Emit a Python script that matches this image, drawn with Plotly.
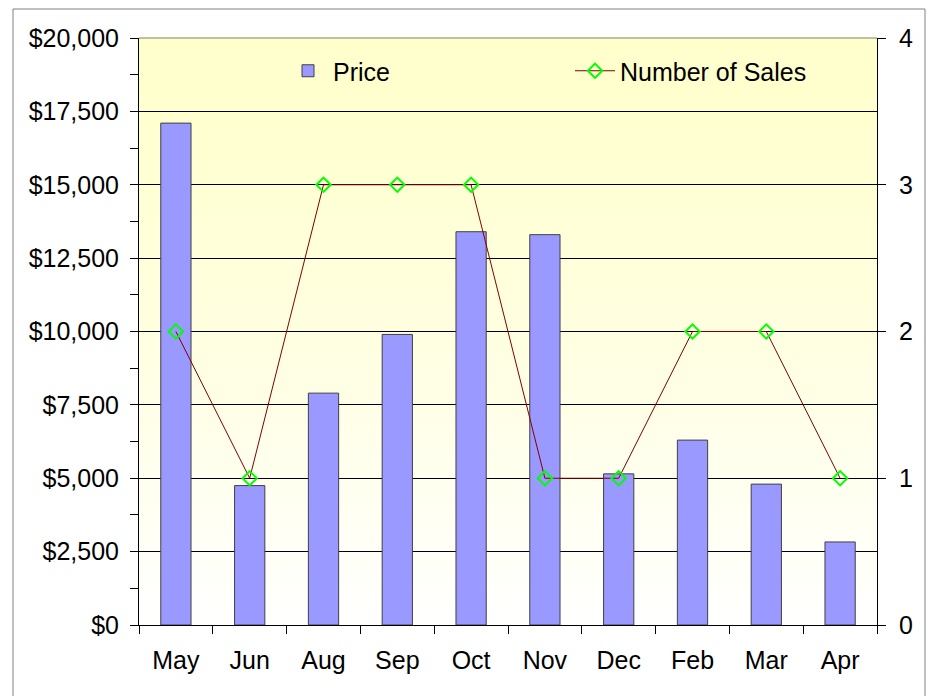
import plotly.graph_objects as go

months = ["May", "Jun", "Aug", "Sep", "Oct", "Nov", "Dec", "Feb", "Mar", "Apr"]
price = [17100, 4750, 7900, 9900, 13400, 13300, 5150, 6300, 4800, 2830]
sales = [2, 1, 3, 3, 3, 1, 1, 2, 2, 1]

FONT = "Liberation Sans, Arial, sans-serif"
FS = 25

# page body has an 8px margin: compensate so the plot area lands at x 139..877, y 38..625
OFF = 8
W, H = 938 - OFF, 696 - OFF
L, T, R, B = 139 - OFF, 38 - OFF, 938 - 877, 696 - 625
PW, PH = W - L - R, H - T - B

fig = go.Figure()
fig.add_trace(go.Bar(
    x=months, y=price, name="Price",
    marker=dict(color="#9999FF", line=dict(color="#404040", width=1)),
    width=0.41, yaxis="y",
))
fig.add_trace(go.Scatter(
    x=months, y=sales, name="Number of Sales", mode="lines+markers",
    line=dict(color="#800000", width=1),
    marker=dict(symbol="diamond-open", color="#00FF00", size=11, line=dict(width=2, color="#00FF00")),
    yaxis="y2",
))

# background gradient bands (yellow at top -> white at bottom)
shapes = []
n = 120
for i in range(n):
    t0 = i / n
    t1 = (i + 1) / n
    tm = (t0 + t1) / 2  # fraction from top
    f = tm ** 1.3
    b = int(round(204 + (255 - 204) * f))
    shapes.append(dict(type="rect", xref="x domain", yref="y domain",
                       x0=0, x1=1, y0=1 - t1, y1=1 - t0 + 0.002,
                       fillcolor=f"rgb(255,255,{b})", line=dict(width=0), layer="below"))
# top plot border gray
shapes.append(dict(type="line", xref="x domain", yref="y domain", x0=0, x1=1, y0=1, y1=1,
                   line=dict(color="#808080", width=1)))
# outer chart border
shapes.append(dict(type="rect", xref="paper", yref="paper",
                   x0=(13 - 139) / PW, x1=(925 - 139) / PW,
                   y0=(625 - 720) / PH, y1=(625 - 9) / PH,
                   line=dict(color="#808080", width=1), fillcolor="rgba(0,0,0,0)"))

fig.update_layout(
    width=W, height=H,
    margin=dict(l=L, r=R, t=T, b=B, autoexpand=False),
    paper_bgcolor="white", plot_bgcolor="white",
    font=dict(family=FONT, size=FS, color="black"),
    shapes=shapes,
    showlegend=True,
    legend=dict(orientation="h", x=(283 - 139) / PW, xanchor="left",
                y=(625 - 71) / PH, yanchor="middle",
                bgcolor="rgba(0,0,0,0)", font=dict(size=FS),
                entrywidth=232, entrywidthmode="pixels", itemwidth=40),
    xaxis=dict(type="category", range=[-0.5, 9.5], showline=True, linecolor="black", linewidth=1,
               ticks="outside", ticklen=8, tickcolor="black", tickson="boundaries",
               showgrid=False, ticklabelstandoff=13),
    yaxis=dict(range=[0, 20000], dtick=2500, tickformat="$,.0f", showline=True,
               linecolor="black", linewidth=1, ticks="outside", ticklen=8, tickcolor="black",
               showgrid=True, gridcolor="black", gridwidth=1, zeroline=False,
               minor=dict(dtick=1250, ticks="outside", ticklen=8, tickcolor="black", showgrid=False),
               ticklabelstandoff=6),
    yaxis2=dict(range=[0, 4], dtick=1, overlaying="y", side="right", showline=True,
                linecolor="black", linewidth=1, ticks="outside", ticklen=8, tickcolor="black",
                showgrid=False, zeroline=False, ticklabelstandoff=8),
)

fig.write_html("out.html")
